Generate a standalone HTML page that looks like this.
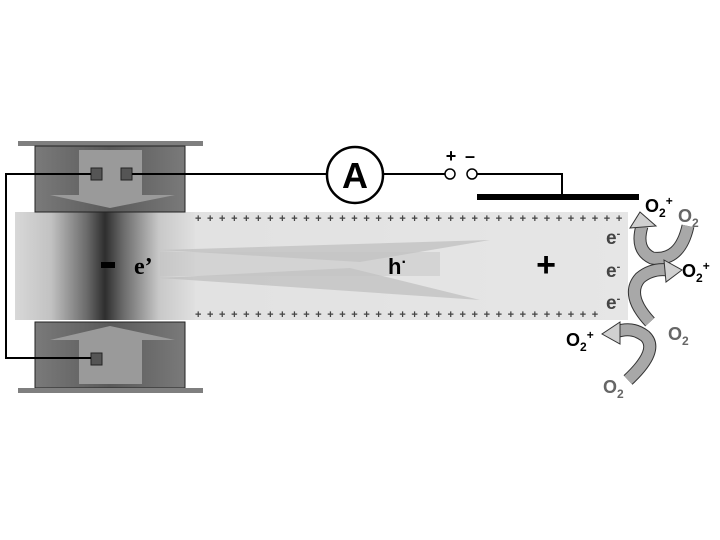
<!DOCTYPE html>
<html><head><meta charset="utf-8"><style>
html,body{margin:0;padding:0;background:#fff;}
svg{display:block;}
text{font-family:"Liberation Sans",Arial,sans-serif;font-weight:bold;}
</style></head><body>
<svg width="720" height="540" viewBox="0 0 720 540">
<defs>
<linearGradient id="band" x1="0" x2="1" y1="0" y2="0">
<stop offset="0" stop-color="#d8d8d8"/>
<stop offset="0.2" stop-color="#c2c2c2"/>
<stop offset="0.4" stop-color="#6a6a6a"/>
<stop offset="0.5" stop-color="#2e2e2e"/>
<stop offset="0.6" stop-color="#6a6a6a"/>
<stop offset="0.8" stop-color="#c8c8c8"/>
<stop offset="1" stop-color="#e0e0e0"/>
</linearGradient>
<linearGradient id="box" x1="0" x2="1" y1="0" y2="0">
<stop offset="0" stop-color="#7a7a7a"/>
<stop offset="0.5" stop-color="#5a5a5a"/>
<stop offset="1" stop-color="#7a7a7a"/>
</linearGradient>
<linearGradient id="sample" x1="0" x2="1" y1="0" y2="0">
<stop offset="0" stop-color="#d4d4d4"/>
<stop offset="0.3" stop-color="#dedede"/>
<stop offset="1" stop-color="#e8e8e8"/>
</linearGradient>
</defs>

<g>
<rect x="15" y="212" width="613" height="108" fill="url(#sample)"/>
<rect x="15" y="212" width="180" height="108" fill="url(#band)"/>
<rect x="195" y="212" width="433" height="108" fill="#e4e4e4" opacity="0.6"/>
<path d="M160 250 L490 240 L360 262 Z" fill="#bdbdbd" opacity="0.7"/>
<path d="M160 278 L480 300 L350 268 Z" fill="#bdbdbd" opacity="0.7"/>
<rect x="160" y="252" width="280" height="24" fill="#c4c4c4" opacity="0.5"/>
</g>
<text x="195" y="222" font-size="11" fill="#444" letter-spacing="5.6">++++++++++++++++++++++++++++++++++++</text>
<text x="195" y="318" font-size="11" fill="#444" letter-spacing="5.6">++++++++++++++++++++++++++++++++++</text>

<g>
<rect x="18" y="141" width="185" height="5" fill="#7f7f7f"/>
<rect x="35" y="146" width="150" height="66" fill="url(#box)" stroke="#222" stroke-width="1"/>
<path d="M79 150 H142 V195 H175 L110 208 L50 195 H79 Z" fill="#9a9a9a"/>
<rect x="91" y="168" width="11" height="12" fill="#555" stroke="#222"/>
<rect x="121" y="168" width="11" height="12" fill="#555" stroke="#222"/>
</g>
<g>
<rect x="35" y="322" width="150" height="66" fill="url(#box)" stroke="#222" stroke-width="1"/>
<path d="M79 384 H142 V340 H175 L110 326 L50 340 H79 Z" fill="#9a9a9a"/>
<rect x="18" y="388" width="185" height="5" fill="#7f7f7f"/>
<rect x="91" y="353" width="11" height="12" fill="#555" stroke="#222"/>
</g>

<g stroke="#000" stroke-width="2" fill="none">
<path d="M91 174 H6 V358 H91"/>
<path d="M132 174 H327"/>
<path d="M383 174 H445"/>
<path d="M477 174 H562 V197"/>
</g>
<rect x="477" y="194" width="162" height="6" fill="#000"/>
<g>
<circle cx="355" cy="175" r="28" fill="#fff" stroke="#000" stroke-width="2.5"/>
<text x="355" y="188" font-size="36" text-anchor="middle">A</text>
</g>
<g>
<circle cx="450" cy="174" r="5" fill="#fff" stroke="#000" stroke-width="1.5"/>
<circle cx="472" cy="174" r="5" fill="#fff" stroke="#000" stroke-width="1.5"/>
<text x="451" y="162" font-size="18" text-anchor="middle">+</text>
<text x="470" y="162" font-size="18" text-anchor="middle">–</text>
</g>

<rect x="101" y="262" width="14" height="6" fill="#000"/>
<text x="134" y="274" font-size="24" style="font-family:'Liberation Serif',serif">e’</text>
<text x="388" y="274" font-size="22">h<tspan font-size="16" dy="-7">·</tspan></text>
<text x="546" y="276" font-size="34" text-anchor="middle">+</text>
<g font-size="19" fill="#444">
<text x="606" y="244">e<tspan font-size="11" dy="-7">-</tspan></text>
<text x="606" y="277">e<tspan font-size="11" dy="-7">-</tspan></text>
<text x="606" y="309">e<tspan font-size="11" dy="-7">-</tspan></text>
</g>

<g fill="none">
<path d="M688 226 Q680 262 652 258 Q635 250 642 226" stroke="#333" stroke-width="13"/>
<path d="M688 226 Q680 262 652 258 Q635 250 642 226" stroke="#a8a8a8" stroke-width="11"/>
<path d="M630 228 L640 212 L656 226 Z" fill="#d0d0d0" stroke="#333"/>
<path d="M650 322 Q625 295 640 278 Q652 268 668 270" stroke="#333" stroke-width="13"/>
<path d="M650 322 Q625 295 640 278 Q652 268 668 270" stroke="#a8a8a8" stroke-width="11"/>
<path d="M664 260 L682 270 L666 282 Z" fill="#d0d0d0" stroke="#333"/>
<path d="M628 380 Q660 350 645 336 Q632 326 616 332" stroke="#333" stroke-width="13"/>
<path d="M628 380 Q660 350 645 336 Q632 326 616 332" stroke="#a8a8a8" stroke-width="11"/>
<path d="M620 322 L602 334 L620 344 Z" fill="#d0d0d0" stroke="#333"/>
</g>
<g font-size="18">
<text x="645" y="212" fill="#000">O<tspan font-size="12" dy="5">2</tspan><tspan font-size="12" dy="-12">+</tspan></text>
<text x="678" y="222" fill="#666">O<tspan font-size="12" dy="5">2</tspan></text>
<text x="682" y="277" fill="#000">O<tspan font-size="12" dy="5">2</tspan><tspan font-size="12" dy="-12">+</tspan></text>
<text x="668" y="340" fill="#666">O<tspan font-size="12" dy="5">2</tspan></text>
<text x="566" y="346" fill="#000">O<tspan font-size="12" dy="5">2</tspan><tspan font-size="12" dy="-12">+</tspan></text>
<text x="603" y="393" fill="#666">O<tspan font-size="12" dy="5">2</tspan></text>
</g>
</svg>
</body></html>
